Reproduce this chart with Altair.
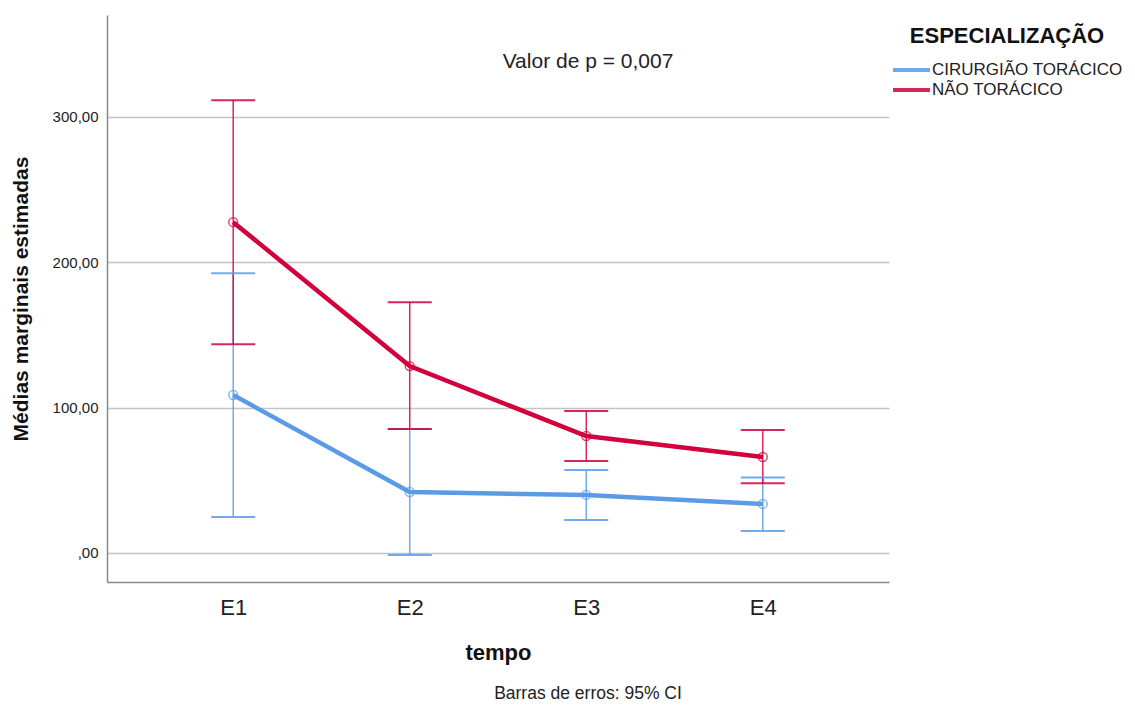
import altair as alt
import pandas as pd

tempo = ["E1", "E2", "E3", "E4"]
grupos = ["CIRURGIÃO TORÁCICO", "NÃO TORÁCICO"]
cir_mean = [108.6, 41.9, 39.9, 33.7]
cir_lower = [24.7, -1.4, 22.7, 15.1]
cir_upper = [192.4, 85.2, 57.0, 51.8]
nao_mean = [227.5, 128.5, 80.4, 66.0]
nao_lower = [143.6, 85.2, 63.2, 48.0]
nao_upper = [311.3, 172.5, 97.6, 84.5]
cores = ["#5B9BE6", "#D2003C"]

rows = []
for g, m, lo, up in [(grupos[0], cir_mean, cir_lower, cir_upper),
                     (grupos[1], nao_mean, nao_lower, nao_upper)]:
    for t, a, b, c in zip(tempo, m, lo, up):
        rows.append({"tempo": t, "grupo": g, "media": a, "inf": b, "sup": c})
df = pd.DataFrame(rows)

FONT = "Liberation Sans"

x = alt.X("tempo:O", sort=tempo,
          scale=alt.Scale(type="point", padding=0.715),
          axis=alt.Axis(title="tempo", labelAngle=0, ticks=False, grid=False,
                        labelFontSize=22, labelColor="#222", labelPadding=15,
                        titleFontSize=22, titleFontWeight="bold", titlePadding=24,
                        titleColor="#111", domainColor="#888", domainWidth=1.5))
yscale = alt.Scale(domain=[-20, 370], nice=False, zero=False)
color = alt.Color("grupo:N", scale=alt.Scale(domain=grupos, range=cores),
                  legend=alt.Legend(title="ESPECIALIZAÇÃO", orient="none",
                                    legendX=784, legendY=11,
                                    symbolType="stroke", symbolSize=1369,
                                    symbolStrokeWidth=4, symbolFillColor="transparent",
                                    clipHeight=20,
                                    titleAnchor="middle", titleLimit=0,
                                    titleFontSize=22, titleFontWeight="bold",
                                    titleColor="#111", titlePadding=12,
                                    labelFontSize=17, labelColor="#222",
                                    labelLimit=0, labelOffset=0, rowPadding=0))

base = alt.Chart(df)

rule = base.mark_rule(strokeWidth=1.5, opacity=0.85).encode(
    x=x,
    y=alt.Y("inf:Q", scale=yscale),
    y2="sup:Q",
    color=color,
)
caps = base.transform_fold(["inf", "sup"], as_=["lim", "val"]).mark_tick(
    size=44, thickness=2, opacity=0.85).encode(
    x=x, y=alt.Y("val:Q", scale=yscale), color=color)

line = base.mark_line(strokeWidth=4.5).encode(
    x=x,
    y=alt.Y("media:Q", scale=yscale,
            axis=alt.Axis(title="Médias marginais estimadas", values=[0, 100, 200, 300],
                          labelExpr="datum.value == 0 ? ',00' : replace(format(datum.value, '.2f'), '.', ',')",
                          ticks=False, grid=True, gridColor="#C4C4C4", gridWidth=1.5,
                          labelFontSize=15, labelColor="#222", labelPadding=9,
                          titleFontSize=21, titleFontWeight="bold", titleColor="#111",
                          titlePadding=21, domainColor="#888", domainWidth=1.5)),
    color=color,
)
pts = base.mark_point(shape="circle", filled=False, size=80, strokeWidth=1.5).encode(
    x=x, y=alt.Y("media:Q", scale=yscale), color=color)

pval = alt.Chart(pd.DataFrame({"t": ["Valor de p = 0,007"]})).mark_text(
    fontSize=21, font=FONT, color="#222").encode(
    text="t:N", x=alt.value(481), y=alt.value(47))
nota = alt.Chart(pd.DataFrame({"t": ["Barras de erros: 95% CI"]})).mark_text(
    fontSize=17.5, font=FONT, color="#222").encode(
    text="t:N", x=alt.value(481), y=alt.value(679))

chart = alt.layer(rule, caps, line, pts, pval, nota).properties(
    width=782, height=567,
    autosize=alt.AutoSizeParams(type="none"),
    padding={"left": 99, "top": 7, "right": 238, "bottom": 120},
).configure(font=FONT).configure_view(stroke=None)

chart.save("out.html", embed_options={"renderer": "svg", "actions": False})
